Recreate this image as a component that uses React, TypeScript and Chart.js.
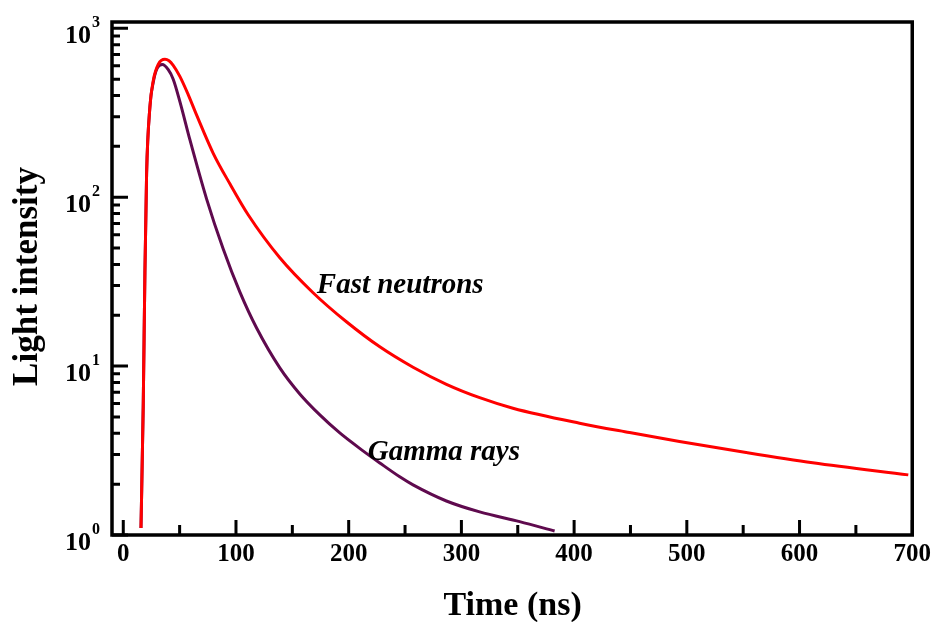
import React, { useEffect, useRef } from 'react';
import { Chart, registerables } from 'chart.js';

Chart.register(...registerables);

// ---- data ----
const neutronTimes = [15.7, 17.7, 19.2, 20.7, 23.6, 26.6, 31, 37, 40.6, 44.3, 50.2, 57.6, 65.1, 79.8, 94.6, 110.8, 138.9, 168.4, 198, 227.6, 257.1, 286.7, 316.2, 345.7, 404.8, 449.2, 493.5, 552.6, 611.7, 696.5];
const neutronValues = [1.1, 5.8, 35.7, 138, 340, 490, 611, 655, 642, 604, 519, 405, 306, 182, 120, 78.7, 43.8, 27.2, 18.3, 13.0, 9.84, 7.8, 6.5, 5.63, 4.59, 4.04, 3.58, 3.08, 2.68, 2.27];

const gammaTimes = [15.7, 17.7, 19.2, 20.7, 23.6, 26.6, 30, 34.6, 39.9, 44.3, 50.3, 59.1, 73.9, 88.6, 103.4, 118.3, 138.9, 156.6, 174.4, 192.1, 212.7, 227.6, 245.3, 257.1, 286.7, 316.2, 351.7, 382.7];
const gammaValues = [1.1, 5.8, 35.7, 138, 340, 480, 580, 610, 569, 500, 367, 219, 97.8, 49.5, 27.5, 16.8, 9.76, 6.84, 5.14, 4.02, 3.15, 2.67, 2.21, 1.98, 1.59, 1.37, 1.2, 1.056];

const xTickValues = [0, 100, 200, 300, 400, 500, 600, 700];
const xMinorTickValues = [50, 150, 250, 350, 450, 550, 650];
const yDecades = [1, 10, 100, 1000];
const yExponents = ['0', '1', '2', '3'];
const yMinorFactors = [2, 3, 4, 5, 6, 7, 8, 9];

const X_MIN = -10;
const X_MAX = 700;
const Y_MIN = 1;
const Y_MAX = 1090;

const xTitle = 'Time (ns)';
const yTitle = 'Light intensity';
const neutronLabel = { text: 'Fast neutrons', t: 171.7, v: 27.2 };
const gammaLabel = { text: 'Gamma rays', t: 216.9, v: 2.78 };

const SERIF = '"Liberation Serif", "Times New Roman", Times, serif';
const RED = '#ff0000';
const PURPLE = '#5f0a4e';

const framePlugin = {
  id: 'framePlugin',
  afterDraw(chart: any) {
    const { ctx, chartArea: a, scales } = chart;
    const x = scales.x;
    const y = scales.y;
    ctx.save();
    ctx.strokeStyle = '#000';
    ctx.fillStyle = '#000';
    ctx.lineCap = 'butt';

    // ticks (inward)
    ctx.lineWidth = 3;
    ctx.beginPath();
    xTickValues.forEach((v) => {
      const px = x.getPixelForValue(v);
      ctx.moveTo(px, a.bottom);
      ctx.lineTo(px, a.bottom - 15);
    });
    xMinorTickValues.forEach((v) => {
      const px = x.getPixelForValue(v);
      ctx.moveTo(px, a.bottom);
      ctx.lineTo(px, a.bottom - 10);
    });
    yDecades.forEach((d) => {
      const py = y.getPixelForValue(d);
      ctx.moveTo(a.left, py);
      ctx.lineTo(a.left + 16, py);
      yMinorFactors.forEach((m) => {
        const val = d * m;
        if (val <= Y_MAX) {
          const pm = y.getPixelForValue(val);
          ctx.moveTo(a.left, pm);
          ctx.lineTo(a.left + 8, pm);
        }
      });
    });
    ctx.stroke();

    // frame
    ctx.lineWidth = 3.5;
    ctx.strokeRect(a.left, a.top, a.right - a.left, a.bottom - a.top);

    // y tick labels: 10^n
    const mainFont = `bold 26px ${SERIF}`;
    const supFont = `bold 16px ${SERIF}`;
    yDecades.forEach((d, i) => {
      const py = y.getPixelForValue(d);
      const base = py + 15;
      ctx.font = supFont;
      const sw = ctx.measureText(yExponents[i]).width;
      const supLeft = a.left - 12 - sw;
      ctx.textAlign = 'left';
      ctx.textBaseline = 'alphabetic';
      ctx.fillText(yExponents[i], supLeft, base - 16);
      ctx.font = mainFont;
      ctx.textAlign = 'right';
      ctx.fillText('10', supLeft - 1, base);
    });

    // axis titles
    ctx.font = `bold 34px ${SERIF}`;
    ctx.textAlign = 'center';
    ctx.textBaseline = 'alphabetic';
    ctx.fillText(xTitle, (a.left + a.right) / 2 + 0.5, 615);
    ctx.save();
    ctx.font = `bold 35px ${SERIF}`;
    ctx.translate(37, (a.top + a.bottom) / 2 - 2);
    ctx.rotate(-Math.PI / 2);
    ctx.fillText(yTitle, 0, 0);
    ctx.restore();

    // curve annotations
    ctx.font = `italic bold 29px ${SERIF}`;
    ctx.textAlign = 'left';
    ctx.textBaseline = 'alphabetic';
    [neutronLabel, gammaLabel].forEach((l) => {
      ctx.fillText(l.text, x.getPixelForValue(l.t), y.getPixelForValue(l.v));
    });

    ctx.restore();
  },
};

export default function App() {
  const canvasRef = useRef<HTMLCanvasElement | null>(null);

  useEffect(() => {
    document.body.style.margin = '0';
    const canvas = canvasRef.current;
    if (!canvas) return;
    const chart = new Chart(canvas, {
      type: 'line',
      data: {
        datasets: [
          {
            label: 'Fast neutrons',
            data: neutronTimes.map((t, i) => ({ x: t, y: neutronValues[i] })),
            borderColor: RED,
            backgroundColor: RED,
            borderWidth: 3,
            pointRadius: 0,
            cubicInterpolationMode: 'monotone',
            fill: false,
          },
          {
            label: 'Gamma rays',
            data: gammaTimes.map((t, i) => ({ x: t, y: gammaValues[i] })),
            borderColor: PURPLE,
            backgroundColor: PURPLE,
            borderWidth: 3,
            pointRadius: 0,
            cubicInterpolationMode: 'monotone',
            fill: false,
          },
        ],
      },
      options: {
        animation: false,
        responsive: false,
        devicePixelRatio: 1,
        layout: { padding: { left: 0, top: 22, right: 23, bottom: 0 } },
        plugins: {
          legend: { display: false },
          tooltip: { enabled: false },
          title: { display: false },
        },
        scales: {
          x: {
            type: 'linear',
            min: X_MIN,
            max: X_MAX,
            border: { display: false },
            grid: { display: false, drawTicks: false },
            afterBuildTicks: (scale: any) => {
              scale.ticks = xTickValues.map((v) => ({ value: v }));
            },
            afterFit: (scale: any) => {
              scale.height = 87;
            },
            ticks: {
              autoSkip: false,
              maxRotation: 0,
              padding: 5,
              color: '#000',
              font: { family: SERIF, size: 25, weight: 'bold' },
              callback: (v: any) => String(v),
            },
          },
          y: {
            type: 'logarithmic',
            min: Y_MIN,
            max: Y_MAX,
            border: { display: false },
            grid: { display: false, drawTicks: false },
            ticks: { display: false },
            afterFit: (scale: any) => {
              scale.width = 112;
            },
          },
        },
      },
      plugins: [framePlugin],
    } as any);
    return () => chart.destroy();
  }, []);

  return (
    <div style={{ width: 936, height: 622, position: 'relative', background: '#fff' }}>
      <canvas ref={canvasRef} width={936} height={622} />
    </div>
  );
}
